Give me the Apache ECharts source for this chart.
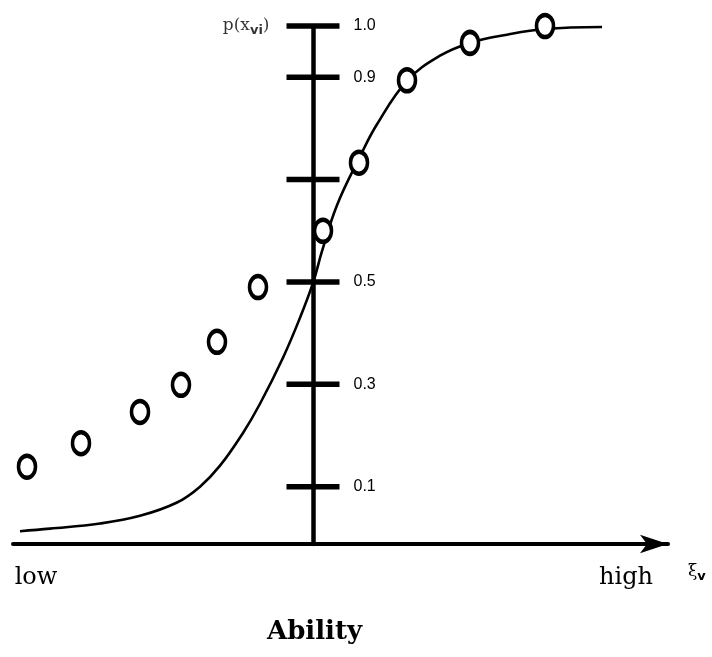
<!DOCTYPE html>
<html>
<head>
<meta charset="utf-8">
<script src="https://cdn.jsdelivr.net/npm/echarts@6/dist/echarts.min.js"></script>
<style>html,body{margin:0;padding:0;background:#fff}#c{width:712px;height:657px}</style>
</head>
<body>
<div id="c"></div>
<script>
// Item characteristic curve (ability units, 0 = vertical axis)
const curveX = [-2.93, -2.63, -2.13, -1.73, -1.36, -1.13, -0.93, -0.70, -0.53, -0.30, -0.13, 0.00, 0.09, 0.24, 0.47, 0.64, 0.94, 1.27, 1.57, 1.94, 2.32, 2.89];
const curveY = [0.013, 0.018, 0.028, 0.043, 0.069, 0.100, 0.141, 0.205, 0.262, 0.352, 0.430, 0.498, 0.560, 0.650, 0.745, 0.808, 0.893, 0.942, 0.967, 0.983, 0.994, 0.998];
// Observed proportions (circles)
const pointX = [-2.86, -2.32, -1.73, -1.32, -0.96, -0.55, 0.10, 0.46, 0.94, 1.57, 2.32];
const pointY = [0.139, 0.185, 0.246, 0.299, 0.383, 0.490, 0.600, 0.733, 0.894, 0.967, 1.000];
// Vertical axis ticks
const tickValues = [0.1, 0.3, 0.5, 0.7, 0.9, 1.0];
const tickLabels = ['0.1', '0.3', '0.5', '', '0.9', '1.0'];
// Horizontal axis labels
const xLabelValues = [-2.77, 3.13];
const xLabelTexts = ['low', 'high'];
const xAxisName = '{a|ξ}{s|v}';
const yAxisTitle = '{a|p(x}{s|vi}{a|)}';
const bottomTitle = 'Ability';

const chart = echarts.init(document.getElementById('c'), null, {renderer: 'canvas'});
chart.setOption({
  backgroundColor: '#fff',
  animation: false,
  title: {
    text: bottomTitle, left: 262, top: 614,
    textStyle: {fontFamily: 'DejaVu Serif', fontWeight: 'bold', fontSize: 26, color: '#000'}
  },
  grid: {left: 13, right: 44, top: 26, bottom: 113},
  xAxis: {
    type: 'value', min: -3, max: 3.55,
    axisLine: {show: true, onZero: false, symbol: ['none', 'arrow'], symbolSize: [14, 28],
      lineStyle: {color: '#000', width: 4}},
    axisTick: {show: false},
    splitLine: {show: false},
    axisLabel: {
      show: true, customValues: xLabelValues, margin: 22,
      formatter: v => xLabelTexts[xLabelValues.indexOf(v)] || '',
      fontFamily: 'DejaVu Serif', fontSize: 24, color: '#000', verticalAlign: 'top'
    },
    name: xAxisName, nameLocation: 'end', nameGap: 20,
    nameTextStyle: {
      verticalAlign: 'top', padding: [17, 0, 0, 0],
      rich: {
        a: {fontFamily: 'DejaVu Serif', fontSize: 17, color: '#000'},
        s: {fontFamily: 'DejaVu Sans', fontSize: 13, fontWeight: 'bold', color: '#000', padding: [9, 0, 0, 0]}
      }
    }
  },
  yAxis: {
    type: 'value', min: -0.012, max: 1,
    axisLine: {show: true, onZero: true, lineStyle: {color: '#000', width: 4.5}},
    axisTick: {show: false},
    axisLabel: {show: false},
    splitLine: {show: false}
  },
  series: [
    {
      type: 'line', smooth: 0.4, symbol: 'none', z: 3,
      lineStyle: {color: '#000', width: 2.6},
      data: curveX.map((x, i) => [x, curveY[i]])
    },
    {
      type: 'scatter', z: 5,
      symbol: 'circle', symbolSize: [17, 22],
      itemStyle: {color: '#fff', borderColor: '#000', borderWidth: 4, opacity: 1},
      data: pointX.map((x, i) => [x, pointY[i]])
    },
    {
      type: 'scatter', z: 4,
      symbol: 'rect', symbolSize: [53, 5.5],
      itemStyle: {color: '#000', opacity: 1},
      label: {
        show: true, position: 'right', distance: 14,
        formatter: p => tickLabels[p.dataIndex],
        fontFamily: 'Liberation Sans', fontSize: 16, color: '#000'
      },
      data: tickValues.map(v => [0, v])
    },
    {
      type: 'scatter', z: 4,
      symbol: 'rect', symbolSize: [53, 1],
      itemStyle: {color: 'rgba(0,0,0,0)'},
      label: {
        show: true, position: 'left', distance: 17,
        formatter: yAxisTitle,
        rich: {
          a: {fontFamily: 'DejaVu Serif', fontSize: 17, color: '#000'},
          s: {fontFamily: 'DejaVu Sans', fontSize: 13, fontWeight: 'bold', color: '#000', padding: [10, 0, 0, 0]}
        }
      },
      data: [[0, 1.0]]
    }
  ]
});
</script>
</body>
</html>
